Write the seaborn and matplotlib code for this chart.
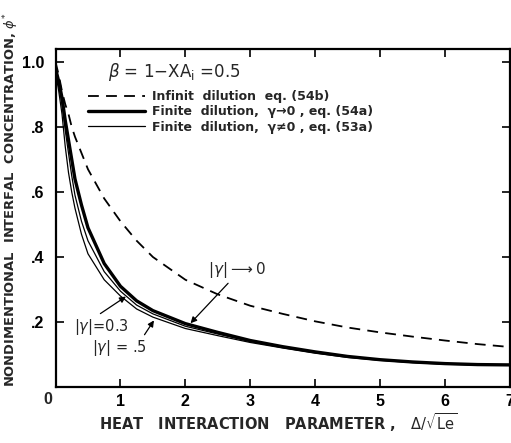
import numpy as np
import pandas as pd
import matplotlib
matplotlib.use("Agg")
import matplotlib.pyplot as plt
import seaborn as sns

# Heat interaction parameter, Delta/sqrt(Le)
x_vals = [0.0, 0.05, 0.1, 0.15, 0.2, 0.25, 0.3, 0.4, 0.5, 0.75, 1.0, 1.25, 1.5,
          2.0, 2.5, 3.0, 3.5, 4.0, 4.5, 5.0, 5.5, 6.0, 6.5, 7.0]

# Infinite dilution, eq. (54b)
phi_infinite = [1.0, 0.96, 0.91, 0.87, 0.84, 0.80, 0.77, 0.72, 0.67, 0.58, 0.51, 0.45, 0.40,
                0.33, 0.285, 0.25, 0.225, 0.202, 0.183, 0.168, 0.155, 0.143, 0.132, 0.123]
# Finite dilution, gamma -> 0, eq. (54a)
phi_gamma0 = [0.98, 0.94, 0.89, 0.82, 0.76, 0.70, 0.64, 0.56, 0.49, 0.38, 0.31, 0.265, 0.235,
              0.195, 0.168, 0.143, 0.124, 0.108, 0.094, 0.084, 0.077, 0.072, 0.069, 0.068]
# Finite dilution, |gamma| = 0.3, eq. (53a)
phi_gamma03 = [0.975, 0.93, 0.87, 0.79, 0.72, 0.65, 0.59, 0.51, 0.45, 0.355, 0.295, 0.252, 0.225,
               0.187, 0.163, 0.140, 0.122, 0.106, 0.093, 0.083, 0.076, 0.071, 0.068, 0.067]
# Finite dilution, |gamma| = 0.5, eq. (53a)
phi_gamma05 = [0.97, 0.91, 0.84, 0.74, 0.66, 0.60, 0.55, 0.47, 0.41, 0.33, 0.28, 0.24, 0.215,
               0.180, 0.158, 0.137, 0.120, 0.104, 0.091, 0.082, 0.075, 0.070, 0.068, 0.067]

series_names = ["infinite", "gamma0", "gamma03", "gamma05"]
legend_labels = ["Infinit  dilution  eq. (54b)",
                 "Finite  dilution,  γ→0 , eq. (54a)",
                 "Finite  dilution,  γ≠0 , eq. (53a)"]

y_ticks = [0.2, 0.4, 0.6, 0.8, 1.0]
y_ticklabels = [".2", ".4", ".6", ".8", "1.0"]
x_ticks = [1, 2, 3, 4, 5, 6, 7]
x_ticklabels = ["1", "2", "3", "4", "5", "6", "7"]

df = pd.DataFrame({
    "x": x_vals * 4,
    "phi": phi_infinite + phi_gamma0 + phi_gamma03 + phi_gamma05,
    "series": sum([[s] * len(x_vals) for s in series_names], []),
})

sns.set_theme(style="ticks")
plt.rcParams["font.family"] = ["DejaVu Sans"]
plt.rcParams["mathtext.fontset"] = "dejavusans"

fig = plt.figure(figsize=(5.11, 4.43), dpi=100)
ax = fig.add_axes([55.5 / 511, 1 - 387 / 443, (510 - 55.5) / 511, (387 - 49) / 443])

styles = {
    "infinite": dict(color="black", lw=1.3, dashes=(6, 4)),
    "gamma0": dict(color="black", lw=2.4),
    "gamma03": dict(color="black", lw=0.9),
    "gamma05": dict(color="black", lw=0.9),
}
handles = {}
for name in series_names:
    sub = df[df["series"] == name]
    st = dict(styles[name])
    dashes = st.pop("dashes", None)
    sns.lineplot(data=sub, x="x", y="phi", ax=ax, estimator=None, sort=False, **st)
    line = ax.lines[-1]
    if dashes is not None:
        line.set_dashes(dashes)
    handles[name] = line

ax.set_xlim(0, 7)
ax.set_ylim(0, 1.04)
ax.set_xticks(x_ticks)
ax.set_xticklabels(x_ticklabels)
ax.set_yticks(y_ticks)
ax.set_yticklabels(y_ticklabels)
ax.tick_params(axis="both", which="both", direction="in", top=True, right=True,
               length=6, width=1.2, labelsize=11.5, colors="black")
ax.tick_params(axis="x", pad=5)
ax.tick_params(axis="y", pad=8)
for lab in ax.get_xticklabels() + ax.get_yticklabels():
    lab.set_fontweight("bold")
    lab.set_fontfamily("Liberation Sans")
for sp in ax.spines.values():
    sp.set_linewidth(1.6)
    sp.set_color("black")
ax.set_xlabel("")
ax.set_ylabel("")

# shared origin label
ax.text(-0.12, -0.04, "0", ha="center", va="center", fontsize=11.5, fontweight="bold",
        family="Liberation Sans", clip_on=False)

fig.text(11.5 / 511, 1 - 200 / 443,
         r"NONDIMENTIONAL  INTERFAL  CONCENTRATION, $\phi^{*}$",
         rotation=90, ha="center", va="center", fontsize=9.4, fontweight="bold")
fig.text(278 / 511, 1 - 423 / 443,
         r"HEAT   INTERACTION   PARAMETER ,   $\Delta/\sqrt{\mathrm{Le}}$",
         ha="center", va="center", fontsize=10.5, fontweight="bold")

ax.text(0.1155, 0.932, r"$\beta$ = 1$-$XA$_{\mathrm{i}}$ =0.5", transform=ax.transAxes,
        ha="left", va="center", fontsize=12)

ax.legend([handles["infinite"], handles["gamma0"], handles["gamma03"]], legend_labels,
          loc="upper left", bbox_to_anchor=(0.0715, 0.878), frameon=False,
          borderpad=0, borderaxespad=0, handlelength=4.6, handletextpad=0.5,
          labelspacing=0.18, prop=dict(size=9, weight="bold"))

arrow = dict(arrowstyle="-|>", color="black", lw=0.9, mutation_scale=9)
ax.annotate(r"$|\gamma|\longrightarrow$0", xy=(2.05, 0.19), xytext=(2.35, 0.36),
            fontsize=11, ha="left", va="center",
            arrowprops=dict(arrow, shrinkA=0, relpos=(0.4, 0.0)))
ax.annotate(r"$|\gamma|$=0.3", xy=(1.12, 0.283), xytext=(0.70, 0.185),
            fontsize=10.5, ha="center", va="center",
            arrowprops=dict(arrow, shrinkA=0, relpos=(0.4, 1.0)))
ax.annotate(r"$|\gamma|$ = .5", xy=(1.54, 0.212), xytext=(0.98, 0.12),
            fontsize=10.5, ha="center", va="center",
            arrowprops=dict(arrow, shrinkA=0, relpos=(0.9, 0.9)))

fig.savefig("out.png", dpi=100)
